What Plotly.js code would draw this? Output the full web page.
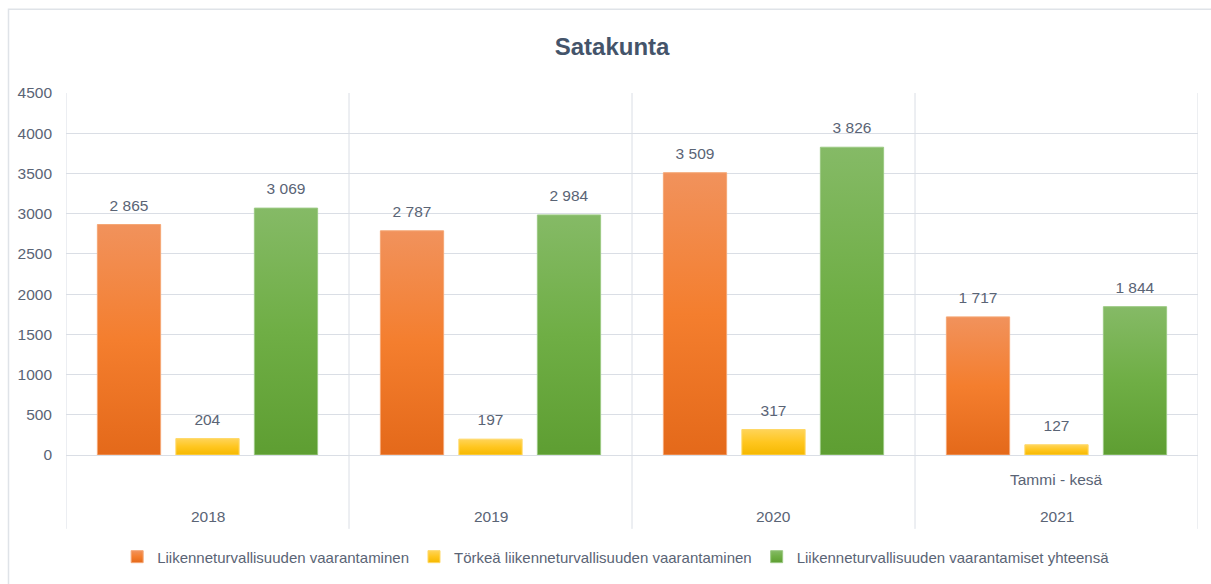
<!DOCTYPE html>
<html>
<head>
<meta charset="utf-8">
<script src="https://cdn.plot.ly/plotly-3.0.1.min.js"></script>
<style>html,body{margin:0;padding:0;background:#fff;}#chart{width:1211px;height:584px;}</style>
</head>
<body>
<div id="chart"></div>
<script>
const chartTitle = 'Satakunta';
const years = ['2018', '2019', '2020', '2021'];
const periodNotes = ['', '', '', 'Tammi - kesä'];
const seriesNames = [
  'Liikenneturvallisuuden vaarantaminen',
  'Törkeä liikenneturvallisuuden vaarantaminen',
  'Liikenneturvallisuuden vaarantamiset yhteensä'
];
const vaarantaminen = [2865, 2787, 3509, 1717];
const torkea = [204, 197, 317, 127];
const yhteensa = [3069, 2984, 3826, 1844];
const yTicks = [0, 500, 1000, 1500, 2000, 2500, 3000, 3500, 4000, 4500];

const FONT = '"Liberation Sans", Arial, sans-serif';
const TXT = '#5a6475';
const GRID = '#dadee5';
const solid = ['#ED7D31', '#FFC000', '#70AD47'];
const edge = ['#F5A775', '#FFD866', '#9CC983'];
const grads = [
  ['#F1925C', '#F47E2E', '#E4691A'],
  ['#FFD458', '#FFC61F', '#F5B800'],
  ['#85BA66', '#6FAE45', '#5E9E32']
];

const values = [vaarantaminen, torkea, yhteensa];
const traces = values.map((v, i) => ({
  type: 'bar',
  name: seriesNames[i],
  x: years,
  y: v,
  marker: {color: solid[i], line: {color: edge[i], width: 1}},
  texttemplate: '%{y:,}',
  textposition: 'outside',
  cliponaxis: false,
  textfont: {family: FONT, size: 15.5, color: TXT},
  hoverinfo: 'skip'
}));

// plot area: x 66..1198, y 93..456
const shapes = [];
for (let k = -0.5; k <= years.length - 0.5; k += 1) {
  shapes.push({type: 'line', xref: 'x', yref: 'paper', x0: k, x1: k, y0: -0.204, y1: 1,
    line: {color: GRID, width: 1}, layer: 'below'});
}
shapes.push({type: 'rect', xref: 'paper', yref: 'paper', x0: -0.0508, x1: 1.03, y0: -0.4, y1: 1.2314,
  line: {color: '#dfe3e8', width: 1.5}, layer: 'below'});

const annotations = [];
years.forEach((yr, i) => {
  annotations.push({x: i, xref: 'x', yref: 'paper', y: -0.171, yanchor: 'middle', xanchor: 'center', text: yr,
    showarrow: false, font: {family: FONT, size: 15.5, color: TXT}});
  if (periodNotes[i]) {
    annotations.push({x: i, xref: 'x', yref: 'paper', y: -0.069, yanchor: 'middle', xanchor: 'center',
      text: periodNotes[i], showarrow: false, font: {family: FONT, size: 15.5, color: TXT}});
  }
});

const layout = {
  width: 1211, height: 584,
  margin: {l: 66, r: 13, t: 93, b: 128},
  paper_bgcolor: '#fff', plot_bgcolor: '#fff',
  separators: ', ',
  title: {text: '<b>' + chartTitle + '</b>', x: 0.5054, xref: 'container', xanchor: 'center',
    y: 1 - 47 / 584, yref: 'container', yanchor: 'middle',
    font: {family: FONT, size: 24, color: '#44546A'}},
  barmode: 'group', bargap: 0.168, bargroupgap: 0.194,
  xaxis: {type: 'category', range: [-0.5, years.length - 0.5], showticklabels: false,
    showgrid: false, zeroline: false, showline: false, fixedrange: true},
  yaxis: {range: [0, 4500], tickvals: yTicks, ticktext: yTicks.map(String), showgrid: true, gridcolor: GRID,
    gridwidth: 1, zeroline: true, zerolinecolor: GRID, zerolinewidth: 1, showline: false, ticks: '',
    ticklabelstandoff: 13, tickfont: {family: FONT, size: 15.5, color: TXT}, fixedrange: true},
  showlegend: true,
  legend: {orientation: 'h', x: 0.486, xanchor: 'center', y: -0.278, yanchor: 'middle',
    font: {family: FONT, size: 15, color: TXT}, itemwidth: 30, traceorder: 'normal'},
  shapes: shapes,
  annotations: annotations
};

Plotly.newPlot('chart', traces, layout, {displayModeBar: false, staticPlot: true}).then(gd => {
  const svg = gd.querySelector('.main-svg');
  const defs = svg.querySelector('defs');
  const ns = 'http://www.w3.org/2000/svg';
  grads.forEach((stops, i) => {
    const lg = document.createElementNS(ns, 'linearGradient');
    lg.setAttribute('id', 'bargrad' + i);
    lg.setAttribute('x1', '0'); lg.setAttribute('y1', '0');
    lg.setAttribute('x2', '0'); lg.setAttribute('y2', '1');
    stops.forEach((c, j) => {
      const s = document.createElementNS(ns, 'stop');
      s.setAttribute('offset', (j / (stops.length - 1) * 100) + '%');
      s.setAttribute('stop-color', c);
      lg.appendChild(s);
    });
    defs.appendChild(lg);
  });
  gd.querySelectorAll('.barlayer .trace').forEach((t, i) => {
    t.querySelectorAll('path').forEach(p => { p.style.fill = 'url(#bargrad' + i + ')'; });
    t.querySelectorAll('text.bartext').forEach(tx => {
      const tr = tx.getAttribute('transform') || '';
      tx.setAttribute('transform', 'translate(0,-8) ' + tr);
    });
  });
  gd.querySelectorAll('.legend .traces').forEach((t, i) => {
    t.querySelectorAll('.legendpoints path').forEach(p => { p.style.fill = 'url(#bargrad' + i + ')'; });
  });
});
</script>
</body>
</html>
